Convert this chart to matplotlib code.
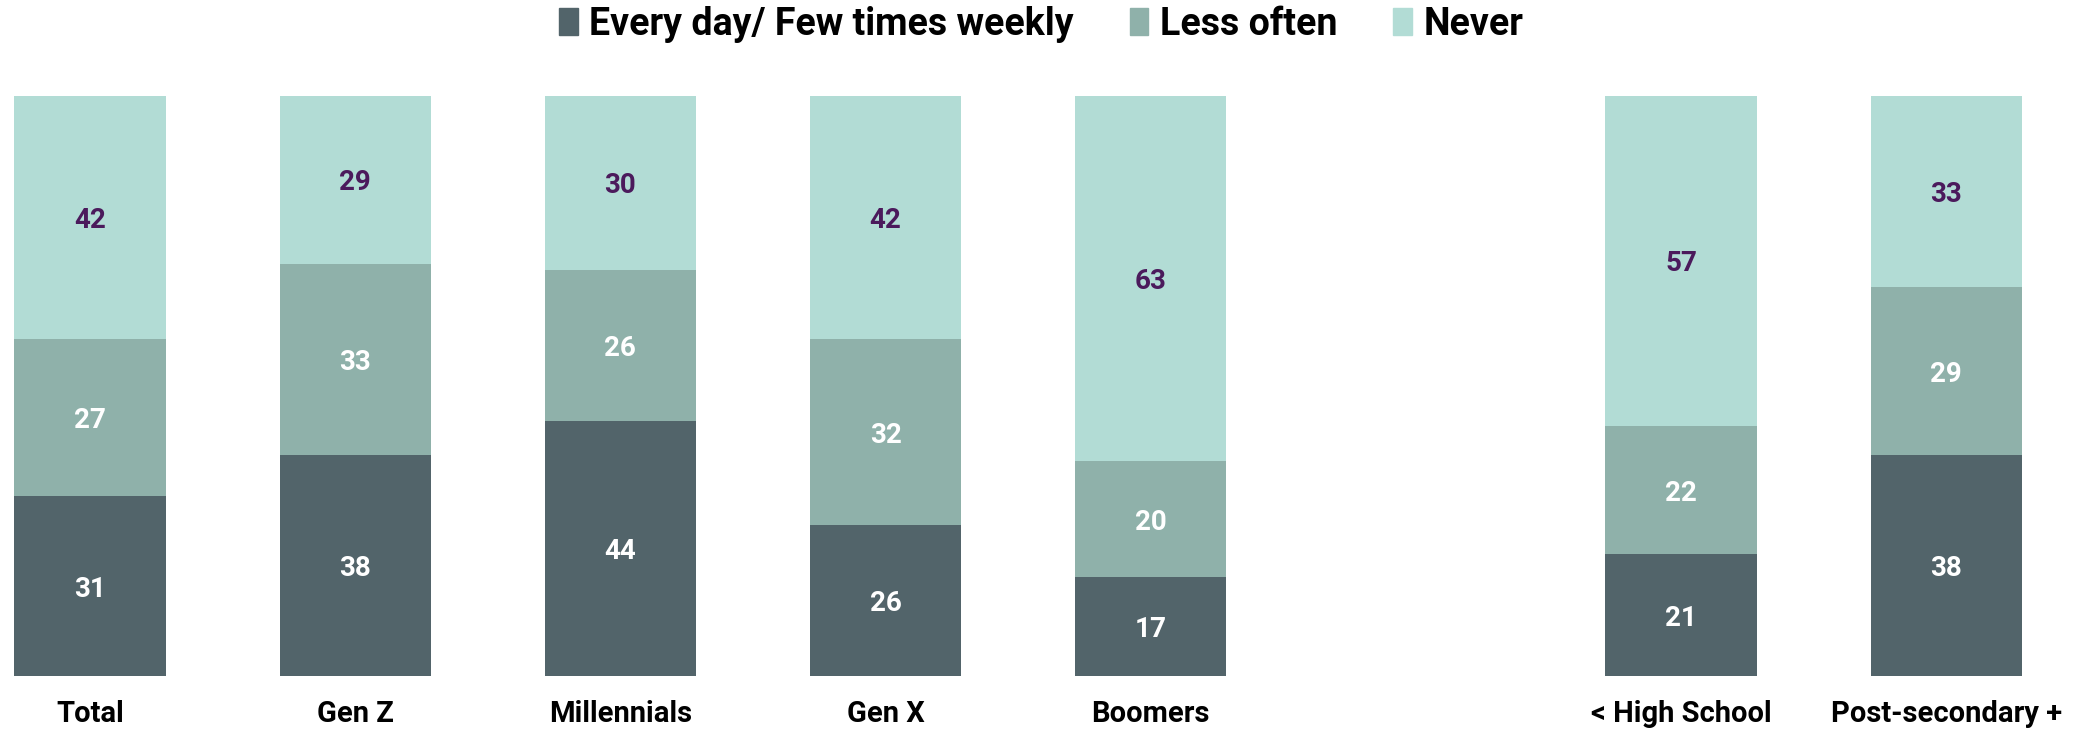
import matplotlib
matplotlib.use('Agg')
import matplotlib.pyplot as plt
from matplotlib.patches import Patch
from matplotlib import font_manager

# data
groups = ['Total', 'Gen Z', 'Millennials', 'Gen X', 'Boomers', '', '< High School', 'Post-secondary +']
every_day = [31, 38, 44, 26, 17, None, 21, 38]
less_often = [27, 33, 26, 32, 20, None, 22, 29]
never = [42, 29, 30, 42, 63, None, 57, 33]
series_names = ['Every day/ Few times weekly', 'Less often', 'Never']

colors = ['#52646A', '#8FB1AA', '#B2DCD5']
label_colors = ['white', 'white', '#4B1A5C']

# pick fonts
names = {f.name for f in font_manager.fontManager.ttflist}
main_font = 'Roboto' if 'Roboto' in names else 'DejaVu Sans'
legend_font = 'Liberation Sans Narrow' if 'Liberation Sans Narrow' in names else main_font
plt.rcParams['font.family'] = [main_font, 'DejaVu Sans']

fig = plt.figure(figsize=(20.82, 7.29), dpi=100)
ax = fig.add_axes([0.005, 0.0727, 0.968, 0.7962])

series = [every_day, less_often, never]
for i, g in enumerate(groups):
    if every_day[i] is None:
        continue
    bottom = 0
    for s, vals in enumerate(series):
        v = vals[i]
        ax.bar(i, v, bottom=bottom, width=0.57, color=colors[s], linewidth=0)
        ax.text(i, bottom + v / 2, str(v), ha='center', va='center_baseline',
                fontsize=20, fontweight='bold', color=label_colors[s])
        bottom += v

ax.set_xlim(-0.3, 7.3)
ax.set_ylim(0, 100)
ax.set_xticks(range(len(groups)))
ax.set_xticklabels(groups, fontsize=21, fontweight='bold')
ax.tick_params(axis='x', length=0, pad=17)
ax.set_yticks([])
for sp in ax.spines.values():
    sp.set_visible(False)

handles = [Patch(color=c) for c in colors]
fig.legend(handles, series_names, loc='center', bbox_to_anchor=(0.5, 0.967),
           ncol=3, frameon=False, handlelength=0.5, handleheight=0.7,
           handletextpad=0.3, columnspacing=1.5,
           prop={'family': legend_font, 'weight': 'bold', 'size': 27})

fig.savefig('out.png', dpi=100)
